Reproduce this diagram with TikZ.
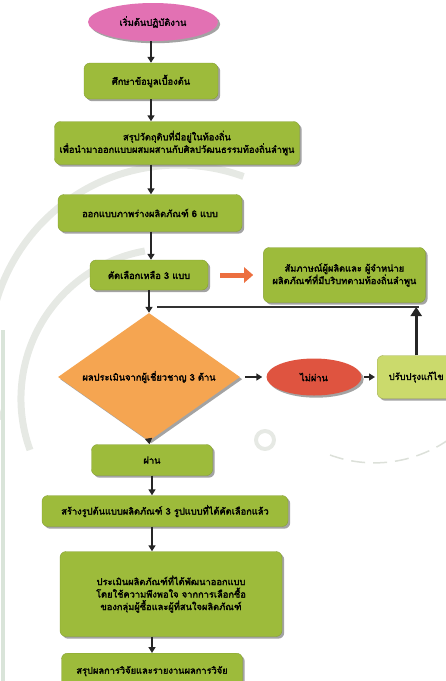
\documentclass[tikz,border=0pt]{standalone}
\usepackage{fontspec}
\usetikzlibrary{arrows.meta,positioning,calc,shapes.geometric,shadows}
\newfontfamily\thaifont[Script=Thai,FakeBold=2.4]{Loma}
\definecolor{boxgreen}{HTML}{9DBB3B}
\definecolor{lightgreen}{HTML}{CBDA6C}
\definecolor{startpink}{HTML}{E271B3}
\definecolor{decorange}{HTML}{F5A551}
\definecolor{failred}{HTML}{DF5440}
\definecolor{arroworange}{HTML}{EC6F3F}
\definecolor{markgrey}{HTML}{DCE0D9}
\tikzset{
  txt/.style        = {font=\thaifont\fontsize{9.3pt}{12.5pt}\selectfont, text=black},
  shade/.style      = {drop shadow={shadow xshift=2.2pt, shadow yshift=-2.2pt, fill=black!45, opacity=.8}},
  block/.style      = {txt, shade, fill=boxgreen, draw=boxgreen!85!black, rounded corners=6pt,
                       align=center, inner sep=2pt},
  oval/.style       = {txt, shade, ellipse, inner sep=0pt},
  decision/.style   = {diamond, shade, fill=decorange, inner sep=0pt},
  flow/.style       = {-{Triangle[length=6pt,width=7pt]}, line width=1.6pt, black!85},
  fatarrow/.style   = {-{Triangle[length=9pt,width=15pt]}, line width=5pt, arroworange},
  feedline/.style   = {line width=2.4pt, black!80},
  uparrow/.style    = {-{Triangle[length=9pt,width=11pt]}, line width=3.2pt, black!85},
  watermark/.style  = {markgrey, line width=7pt, opacity=.7},
}

\begin{document}
\begin{tikzpicture}[x=1pt,y=-1pt]
  \useasboundingbox (0,0) rectangle (446,681);
  % faint watermark behind the chart
  \draw[watermark] (0,420) arc[start angle=160, end angle=290, radius=190];
  \draw[watermark] (30,450) arc[start angle=160, end angle=260, radius=150];
  \draw[watermark, line width=4pt] (265,440) circle[radius=9];
  \draw[markgrey, line width=1.5pt, dash pattern=on 14pt off 8pt] (330,455) arc[start angle=110, end angle=20, radius=130];
  \draw[green!30!black!15, line width=4pt] (3,330) -- (3,681);

  \node[oval, fill=startpink, minimum width=130, minimum height=38] (start) at (153,22) {เริ่มต้นปฏิบัติงาน};
  \node[block, minimum width=134, minimum height=36] (study) at (151,81) {ศึกษาข้อมูลเบื้องต้น};
  \node[block, minimum width=245, minimum height=43] (summary) at (177,143)
    {สรุปวัตถุดิบที่มีอยู่ในท้องถิ่น\\เพื่อนำมาออกแบบผสมผสานกับศิลปวัฒนธรรมท้องถิ่นลำพูน};
  \node[block, minimum width=184, minimum height=37] (sketch) at (150,213) {ออกแบบภาพร่างผลิตภัณฑ์ 6 แบบ};
  \node[block, minimum width=118, minimum height=30] (select) at (149,275) {คัดเลือกเหลือ 3 แบบ};
  \node[block, minimum width=162, minimum height=55, right=55 of select] (interview)
    {สัมภาษณ์ผู้ผลิตและ ผู้จำหน่าย\\ผลิตภัณฑ์ที่มีบริบทตามท้องถิ่นลำพูน};
  \node[decision, minimum width=182, minimum height=128] (check) at (149,377) {};
  \node[txt] (checktxt) at (check) {ผลประเมินจากผู้เชี่ยวชาญ 3 ด้าน};
  \node[oval, fill=failred, minimum width=95, minimum height=37] (fail) at (314,377) {ไม่ผ่าน};
  \node[block, fill=lightgreen, draw=lightgreen!80!black, minimum width=78, minimum height=43,
        anchor=west] (fix) at (377,377) {ปรับปรุงแก้ไข};
  \node[block, minimum width=121, minimum height=31] (pass) at (152,460) {ผ่าน};
  \node[block, minimum width=246, minimum height=31] (build) at (165,511)
    {สร้างรูปต้นแบบผลิตภัณฑ์ 3 รูปแบบที่ได้คัดเลือกแล้ว};
  \node[block, minimum width=222, minimum height=85] (evaluate) at (171,594)
    {ประเมินผลิตภัณฑ์ที่ได้พัฒนาออกแบบ\\โดยใช้ความพึงพอใจ จากการเลือกซื้อ\\ของกลุ่มผู้ซื้อและผู้ที่สนใจผลิตภัณฑ์};
  \node[block, minimum width=181, minimum height=36, anchor=north] (report) at (152,653)
    {สรุปผลการวิจัยและรายงานผลการวิจัย};

  \draw[flow] (start.south -| study) -- (study);
  \draw[flow] (study) -- (study |- summary.north);
  \draw[flow] (summary.south -| study) -- (study |- sketch.north);
  \draw[flow] (sketch.south -| study) -- (study |- select.north);
  \draw[fatarrow, shorten <=12pt, shorten >=10pt] (select) -- (interview);
  \draw[flow] (select) -- (check.north);
  % loop back from the correction step
  \coordinate (loopstart) at (157,307);
  \coordinate (loopend) at (fix.north |- loopstart);
  \draw[feedline] (loopstart) -- ($(loopend)+(3,0)$);
  \draw[uparrow] (fix.north) -- (loopend);
  \draw[flow, shorten <=5pt, shorten >=4pt] (check.east) -- (fail);
  \draw[flow, shorten <=2pt, shorten >=2pt] (fail) -- (fix);
  \draw[flow] (check.south) -- (pass);
  \draw[flow] (pass) -- (pass |- build.north);
  \draw[flow] (build.south -| pass) -- (pass |- evaluate.north);
  \draw[flow] (evaluate.south -| pass) -- (report);
\end{tikzpicture}
\end{document}
